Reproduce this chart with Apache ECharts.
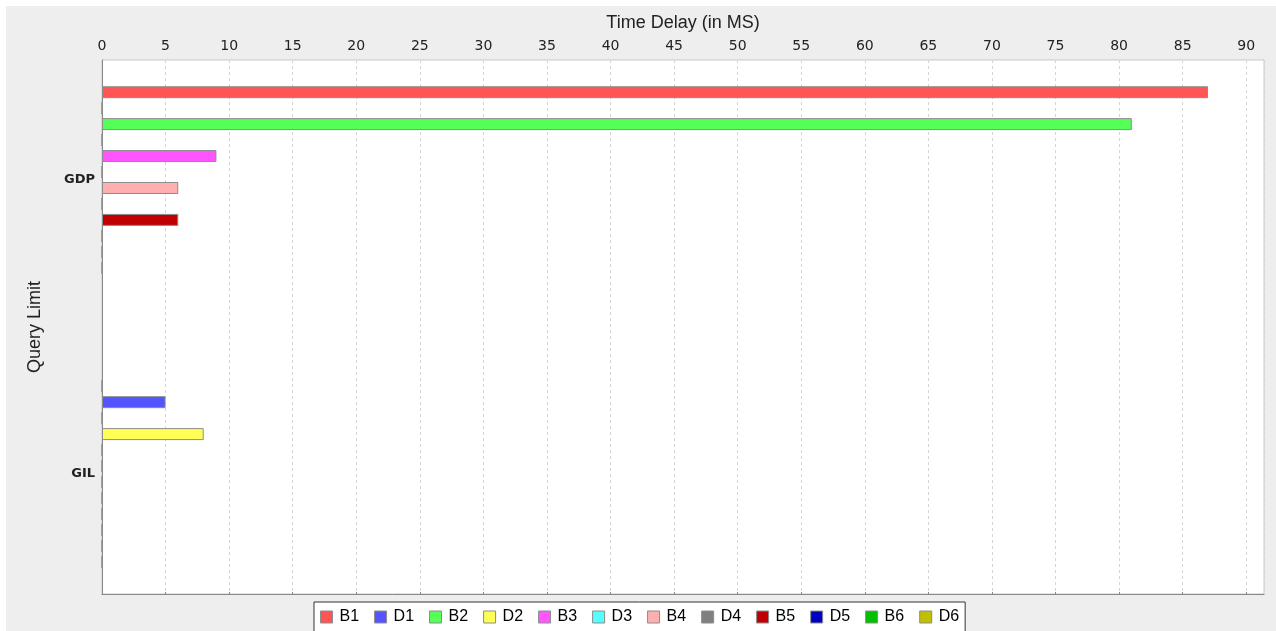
<!DOCTYPE html>
<html>
<head>
<meta charset="utf-8">
<script src="https://cdn.jsdelivr.net/npm/echarts@6/dist/echarts.min.js"></script>
<style>
  html, body { margin: 0; padding: 0; background: #ffffff; }
  #chart { position: absolute; left: 6px; top: 6px; width: 1270px; height: 625px; }
</style>
</head>
<body>
<div id="chart"></div>
<script>
// categories and series
var categories = ['GDP', 'GIL'];
var seriesNames = ['B1', 'D1', 'B2', 'D2', 'B3', 'D3', 'B4', 'D4', 'B5', 'D5', 'B6', 'D6'];
// values per series, in series order
var gdpValues = [87, 0, 81, 0, 9, 0, 6, 0, 6, 0, 0, 0];
var gilValues = [0, 5, 0, 8, 0, 0, 0, 0, 0, 0, 0, 0];
var xMax = 91.4;

// jfreechart default colours
var colors = ['#ff5555', '#5555ff', '#55ff55', '#ffff55', '#ff55ff', '#55ffff',
              '#ffafaf', '#808080', '#c00000', '#0000c0', '#00c000', '#c0c000'];

var myChart = echarts.init(document.getElementById('chart'));

var series = seriesNames.map(function (name, i) {
    return {
        name: name,
        type: 'bar',
        xAxisIndex: 1,
        yAxisIndex: 1,
        barWidth: 12,
        barGap: '33%',
        data: [gdpValues[i], gilValues[i]],
        itemStyle: { color: colors[i], borderColor: '#8c8c8c', borderWidth: 1 },
        emphasis: { disabled: true }
    };
});

myChart.setOption({
    backgroundColor: '#eeeeee',
    animation: false,
    textStyle: { fontFamily: 'Liberation Sans' },
    legend: {
        data: seriesNames,
        top: 596,
        left: 308,
        padding: [7, 6, 30, 6],
        borderColor: '#333333',
        borderWidth: 1,
        backgroundColor: '#ffffff',
        icon: 'rect',
        itemWidth: 12,
        itemHeight: 12,
        itemGap: 15,
        textStyle: { fontSize: 16, color: '#000', padding: [0, 0, 0, 2] },
        itemStyle: { borderColor: '#8c8c8c', borderWidth: 1 }
    },
    grid: [
        { left: 96, right: 12, top: 54, bottom: 37, show: true, backgroundColor: '#ffffff',
          borderColor: '#c8c8c8', borderWidth: 1 },
        { left: 96, right: 12, top: 27, bottom: 10 }
    ],
    xAxis: [
        {
            gridIndex: 0,
            type: 'value',
            position: 'top',
            min: 0,
            max: xMax,
            interval: 5,
            name: 'Time Delay (in MS)',
            nameLocation: 'middle',
            nameGap: 28,
            nameTextStyle: { fontSize: 18, color: '#222' },
            axisLine: { show: true, lineStyle: { color: '#888888' } },
            axisTick: { show: true, length: 2, lineStyle: { color: '#888888' } },
            axisLabel: { fontSize: 14, fontFamily: 'DejaVu Sans', color: '#222', margin: 7, showMaxLabel: false },
            splitLine: { show: true, lineStyle: { color: '#d4d4d4', type: [3, 3] } }
        },
        {
            gridIndex: 1,
            type: 'value',
            min: 0,
            max: xMax,
            show: false
        }
    ],
    yAxis: [
        {
            gridIndex: 0,
            type: 'value',
            min: 0,
            max: 1,
            name: 'Query Limit',
            nameLocation: 'middle',
            nameGap: 58,
            nameTextStyle: { fontSize: 18, color: '#222' },
            axisLine: { show: true, lineStyle: { color: '#888888' } },
            axisTick: { show: false },
            axisLabel: { show: false },
            splitLine: { show: false }
        },
        {
            gridIndex: 1,
            type: 'category',
            inverse: true,
            data: categories,
            axisLine: { show: false },
            axisTick: { show: false },
            axisLabel: { fontSize: 13, fontFamily: 'DejaVu Sans', fontWeight: 'bold', color: '#222', margin: 7 },
            splitLine: { show: false }
        }
    ],
    series: series
});
</script>
</body>
</html>
